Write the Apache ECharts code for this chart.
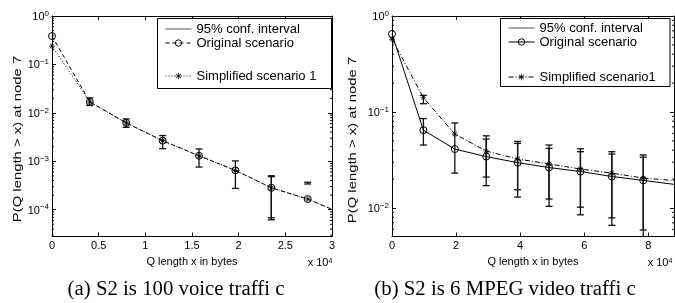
<!DOCTYPE html>
<html>
<head>
<meta charset="utf-8">
<script src="https://cdn.jsdelivr.net/npm/echarts@6/dist/echarts.min.js"></script>
<style>
  html, body { margin: 0; padding: 0; background: #fff; }
  #main { width: 675px; height: 303px; }
</style>
</head>
<body>
<div id="main"></div>
<script>
// (a) S2 is 100 voice traffic -- queue length x (bytes) vs P(Q length > x)
const xA = [0, 4050, 7950, 11850, 15750, 19650, 23500, 27400, 31300];
const origA = [0.385, 0.0169, 0.0062, 0.00267, 0.0013, 0.00065, 0.000284, 0.000166, 0.00008];
const simpA = [0.239, 0.0169, 0.0062, 0.00267, 0.0013, 0.00065, 0.000284, 0.000166, 0.00008];
// 95% confidence intervals
const ciXA = [4050, 7950, 11850, 15750, 19650, 23500, 23500, 27400];
const ciLoA = [0.0142, 0.00503, 0.00182, 0.00076, 0.000275, 0.000062, 0.000068, 0.00034];
const ciHiA = [0.0204, 0.0075, 0.0034, 0.0018, 0.00102, 0.000503, 0.00048, 0.00037];

// (b) S2 is 6 MPEG video traffic
const xB = [0, 9800, 19600, 29400, 39200, 49000, 58800, 68600, 78400, 88200];
const origB = [0.65, 0.0647, 0.0411, 0.0343, 0.0297, 0.0264, 0.024, 0.0213, 0.0194, 0.0176];
const simpB = [0.574, 0.141, 0.0589, 0.0392, 0.0324, 0.0288, 0.0255, 0.0231, 0.0205, 0.0193];
const ciXB = [9800, 9800, 19600, 29400, 29400, 39200, 39200, 49000, 49000, 58800, 58800, 68600, 68600, 78400, 78400];
const ciLoB = [0.0453, 0.122, 0.0231, 0.0171, 0.021, 0.013, 0.0155, 0.0104, 0.0124, 0.0085, 0.0102, 0.0066, 0.0079, 0.0045, 0.0059];
const ciHiB = [0.0855, 0.149, 0.0769, 0.0522, 0.0565, 0.0471, 0.0494, 0.0418, 0.0453, 0.0386, 0.0414, 0.0365, 0.0386, 0.0338, 0.0357];

// axis ranges and ticks
const xMaxA = 30000, xStepA = 5000;
const xMaxB = 88000, xStepB = 20000;
const yMinA = 2.8e-5, yMinB = 5.05e-3;
const minorMult = [2, 3, 4, 5, 6, 7, 8, 9];

const FONT = '"Liberation Sans", Arial, sans-serif';
const SERIF = '"Liberation Serif", "Times New Roman", serif';
const ASTERISK = 'path://M0,4.5h10v1h-10z M4.5,0h1v10h-1z M1,1.7l0.7,-0.7l7.3,7.3l-0.7,0.7z M1.7,9l-0.7,-0.7l7.3,-7.3l0.7,0.7z';

function pairs(xs, ys) {
  return xs.map((x, i) => [x, ys[i]]);
}

// log minor ticks (2..9 x each decade) inside the range
function minorTicks(lo) {
  const out = [];
  for (let e = Math.floor(Math.log10(lo)); e < 0; e++) {
    minorMult.forEach(m => {
      const v = m * Math.pow(10, e);
      if (v > lo && v < 1) out.push([0, v]);
    });
  }
  return out;
}

function powLabel(v) {
  const e = Math.round(Math.log10(v));
  return '{b|10}{e|' + (e < 0 ? '\u2212' + (-e) : e) + '}';
}

function xAxisPair(gridIndex, max, step, showMax) {
  return [
    {
      gridIndex: gridIndex, type: 'value', position: 'bottom', min: 0, max: max, interval: step,
      axisLine: { onZero: false, lineStyle: { color: '#000', width: 1 } },
      axisTick: { inside: true, length: 4, lineStyle: { color: '#000' } },
      axisLabel: { color: '#000', fontFamily: FONT, fontSize: 11, margin: 4, showMaxLabel: showMax, formatter: v => String(v / 10000) },
      splitLine: { show: false },
      name: 'Q length x in bytes', nameLocation: 'middle', nameGap: 19,
      nameTextStyle: { color: '#000', fontFamily: FONT, fontSize: 11 }
    },
    {
      gridIndex: gridIndex, type: 'value', position: 'top', min: 0, max: max, interval: step,
      axisLine: { onZero: false, lineStyle: { color: '#000', width: 1 } },
      axisTick: { inside: true, length: 4, lineStyle: { color: '#000' } },
      axisLabel: { show: false }, splitLine: { show: false }
    }
  ];
}

function yAxes(gridIndex, min) {
  const base = { gridIndex: gridIndex, type: 'log', logBase: 10, min: min, max: 1, splitLine: { show: false } };
  return [
    Object.assign({}, base, {
      position: 'left',
      axisLine: { onZero: false, lineStyle: { color: '#000', width: 1 } },
      axisTick: { inside: true, length: 4, lineStyle: { color: '#000' } },
      axisLabel: {
        color: '#000', fontFamily: FONT, margin: 3, showMinLabel: false, formatter: powLabel,
        rich: {
          b: { fontSize: 11, fontFamily: FONT, color: '#000', lineHeight: 13, verticalAlign: 'bottom' },
          e: { fontSize: 8, fontFamily: FONT, color: '#000', lineHeight: 8, verticalAlign: 'top' }
        }
      }
    }),
    Object.assign({}, base, {
      position: 'right',
      axisLine: { onZero: false, lineStyle: { color: '#000', width: 1 } },
      axisTick: { inside: true, length: 4, lineStyle: { color: '#000' } },
      axisLabel: { show: false }
    })
  ];
}

function renderCI(params, api) {
  const x = api.value(0);
  const lo = api.coord([x, api.value(1)]);
  const hi = api.coord([x, api.value(2)]);
  const cs = params.coordSys;
  const top = Math.max(hi[1], cs.y);
  const bot = Math.min(lo[1], cs.y + cs.height);
  const style = { stroke: '#111', lineWidth: 1.3 };
  const cap = 3.5;
  const kids = [{ type: 'line', shape: { x1: lo[0], y1: top, x2: lo[0], y2: bot }, style: style }];
  if (hi[1] >= cs.y) kids.push({ type: 'line', shape: { x1: hi[0] - cap, y1: hi[1], x2: hi[0] + cap, y2: hi[1] }, style: style });
  if (lo[1] <= cs.y + cs.height) kids.push({ type: 'line', shape: { x1: lo[0] - cap, y1: lo[1], x2: lo[0] + cap, y2: lo[1] }, style: style });
  return { type: 'group', children: kids };
}

// minor ticks on both vertical edges of the box
function renderMinor(params, api) {
  const y = api.coord([0, api.value(1)])[1];
  const cs = params.coordSys;
  const style = { stroke: '#000', lineWidth: 1 };
  return {
    type: 'group', children: [
      { type: 'line', shape: { x1: cs.x, y1: y, x2: cs.x + 2, y2: y }, style: style },
      { type: 'line', shape: { x1: cs.x + cs.width - 2, y1: y, x2: cs.x + cs.width, y2: y }, style: style }
    ]
  };
}

function seriesFor(tag, xi, yi, xs, orig, simp, ciX, ciLo, ciHi, yMin, simpName, origDash, simpDash) {
  return [
    {
      name: tag + '95% conf. interval', type: 'line', xAxisIndex: xi, yAxisIndex: yi, data: [],
      symbol: 'circle', itemStyle: { color: 'transparent' }, lineStyle: { color: '#555', width: 1.2 }
    },
    {
      name: tag + 'minor', type: 'custom', xAxisIndex: xi, yAxisIndex: yi, renderItem: renderMinor,
      encode: { x: 0, y: 1 }, data: minorTicks(yMin), silent: true
    },
    {
      name: tag + 'ci', type: 'custom', xAxisIndex: xi, yAxisIndex: yi, renderItem: renderCI,
      encode: { x: 0, y: [1, 2] }, data: ciX.map((x, i) => [x, ciLo[i], ciHi[i]]), z: 3
    },
    {
      name: tag + 'Original scenario', type: 'line', xAxisIndex: xi, yAxisIndex: yi, data: pairs(xs, orig),
      symbol: 'circle', symbolSize: 7, clip: true,
      itemStyle: { color: 'transparent', borderColor: '#000', borderWidth: 1 },
      lineStyle: { color: '#000', width: 1, type: origDash }
    },
    {
      name: tag + simpName, type: 'line', xAxisIndex: xi, yAxisIndex: yi, data: pairs(xs, simp),
      symbol: ASTERISK, symbolSize: 6, clip: true,
      itemStyle: { color: '#000' },
      lineStyle: { color: '#000', width: 1, type: simpDash }
    }
  ];
}

function legend(left, top, names) {
  return {
    orient: 'vertical', left: left, top: top, padding: 0, itemGap: 0, itemWidth: 26, itemHeight: 8,
    selectedMode: false, data: names, formatter: n => n.slice(2),
    lineStyle: { width: 1 }, itemStyle: { borderWidth: 1 },
    textStyle: { color: '#000', fontFamily: FONT, fontSize: 13, lineHeight: 14 }
  };
}

function textEl(x, y, text, font, extra) {
  return Object.assign({
    type: 'text', x: x, y: y, z: 10,
    style: { text: text, font: font, fill: '#000', align: 'center', verticalAlign: 'middle' }
  }, extra || {});
}

function powerNote(x, y) {
  return {
    type: 'text', x: x, y: y, z: 10,
    style: {
      text: 'x 10{e|4}', font: '11px ' + FONT, fill: '#000', align: 'center', verticalAlign: 'middle',
      rich: { e: { fontSize: 7, fontFamily: FONT, verticalAlign: 'top', lineHeight: 7 } }
    }
  };
}

const chart = echarts.init(document.getElementById('main'));
chart.setOption({
  animation: false,
  backgroundColor: '#fff',
  grid: [
    { left: 52, top: 16, width: 280, height: 220.5 },
    { left: 392, top: 16, width: 282, height: 220.5 }
  ],
  xAxis: xAxisPair(0, xMaxA, xStepA, true).concat(xAxisPair(1, xMaxB, xStepB, false)),
  yAxis: yAxes(0, yMinA).concat(yAxes(1, yMinB)),
  legend: [
    legend(165, 22, ['a:95% conf. interval', 'a:Original scenario']),
    legend(165, 69, ['a:Simplified scenario 1']),
    legend(508, 21, ['b:95% conf. interval', 'b:Original scenario']),
    legend(508, 70, ['b:Simplified scenario1'])
  ],
  graphic: [
    { type: 'rect', z: 3, shape: { x: 157.5, y: 18.5, width: 174, height: 70 }, style: { fill: '#fff', stroke: '#000', lineWidth: 1 } },
    { type: 'rect', z: 3, shape: { x: 500.5, y: 18.5, width: 169.5, height: 68 }, style: { fill: '#fff', stroke: '#000', lineWidth: 1 } },
    textEl(18, 139, 'P(Q length > x) at node 7', '11px ' + FONT, { rotation: Math.PI / 2, scaleX: 1.35 }),
    textEl(353, 140, 'P(Q length > x) at node 7', '11px ' + FONT, { rotation: Math.PI / 2, scaleX: 1.35 }),
    powerNote(320, 263),
    powerNote(660, 263),
    textEl(176, 290, '(a) S2 is 100 voice traffi c', '20px ' + SERIF, { scaleX: 1.04 }),
    textEl(505, 290, '(b) S2 is 6 MPEG video traffi c', '20px ' + SERIF, { scaleX: 1.04 })
  ],
  series: seriesFor('a:', 0, 0, xA, origA, simpA, ciXA, ciLoA, ciHiA, yMinA, 'Simplified scenario 1', [4, 3], [1, 2])
    .concat(seriesFor('b:', 2, 2, xB, origB, simpB, ciXB, ciLoB, ciHiB, yMinB, 'Simplified scenario1', 'solid', [5, 2, 1, 2]))
});
</script>
</body>
</html>
